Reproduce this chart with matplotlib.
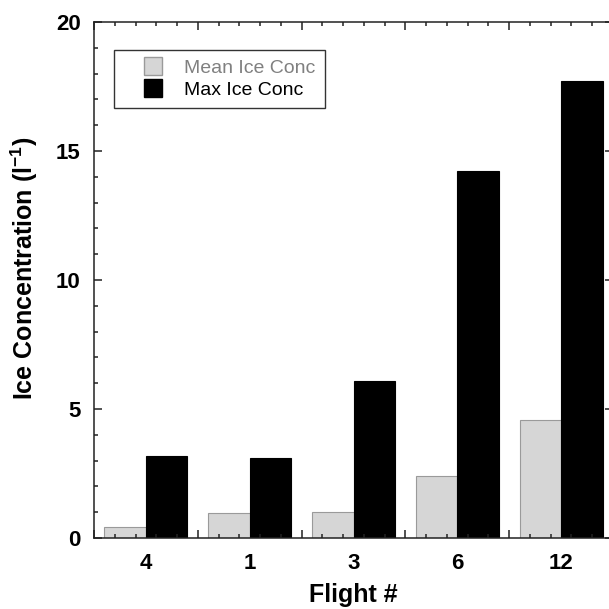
import matplotlib
matplotlib.use("Agg")
import matplotlib.pyplot as plt
import numpy as np
from matplotlib.lines import Line2D
from matplotlib.ticker import FixedLocator, MultipleLocator

plt.rcParams['font.family'] = ['Liberation Sans', 'DejaVu Sans']
plt.rcParams['mathtext.fontset'] = 'custom'
plt.rcParams['mathtext.bf'] = 'Liberation Sans:bold'
plt.rcParams['mathtext.rm'] = 'Liberation Sans'
plt.rcParams['mathtext.default'] = 'bf'

# values
flights = ['4', '1', '3', '6', '12']
mean_conc = [0.43, 0.97, 1.01, 2.40, 4.57]
max_conc = [3.18, 3.10, 6.08, 14.22, 17.71]

x = np.arange(len(flights))
w = 0.40

fig = plt.figure(figsize=(6.09, 6.09), dpi=100)
ax = fig.add_axes([94/609, 71/609, 519/609, 516/609])

ax.bar(x - w/2, mean_conc, w, color='#d6d6d6', edgecolor='#9a9a9a', linewidth=0.8, zorder=1)
ax.bar(x + w/2, max_conc, w, color='black', edgecolor='black', linewidth=0.8, zorder=1)

ax.set_xlim(-0.5, len(flights) - 0.5)
ax.set_ylim(0, 20)

# group boundaries as major ticks, finer marks every 0.2
bounds = np.arange(len(flights) + 1) - 0.5
ax.xaxis.set_major_locator(FixedLocator(bounds))
ax.xaxis.set_minor_locator(MultipleLocator(0.2, offset=0.1))
ax.set_xticklabels([])
ax.yaxis.set_major_locator(MultipleLocator(5))
ax.yaxis.set_minor_locator(MultipleLocator(1))

ax.tick_params(which='both', direction='in', top=True, right=True, color='#222222', width=1.1)
ax.tick_params(which='major', length=6)
ax.tick_params(which='minor', length=3)
ax.tick_params(axis='y', labelsize=16, pad=9.5)
for lab in ax.get_yticklabels():
    lab.set_fontweight('bold')
for s in ax.spines.values():
    s.set_linewidth(1.1)
    s.set_color('#222222')

# category names under the groups
sec = ax.secondary_xaxis('bottom')
sec.set_xticks(x)
sec.set_xticklabels(flights, fontsize=16, fontweight='bold')
sec.tick_params(length=0, pad=11)
sec.spines['bottom'].set_visible(False)
sec.set_xlabel('Flight #', fontsize=18, fontweight='bold', labelpad=6)

ax.set_ylabel('Ice Concentration (l$^{-1}$)', fontsize=18, fontweight='bold')
ax.yaxis.set_label_coords(-0.105, 0.522)

handles = [
    Line2D([], [], marker='s', linestyle='none', markersize=13.5,
           markerfacecolor='#d6d6d6', markeredgecolor='#9a9a9a'),
    Line2D([], [], marker='s', linestyle='none', markersize=13.5,
           markerfacecolor='black', markeredgecolor='black'),
]
leg = ax.legend(handles, ['Mean Ice Conc', 'Max Ice Conc'], loc='upper left',
                bbox_to_anchor=(0.038, 0.946), borderaxespad=0, fontsize=14,
                handlelength=3, handletextpad=0.1, labelspacing=0.2,
                borderpad=0.5, fancybox=False, framealpha=1, edgecolor='#333333')
leg.get_frame().set_linewidth(1.0)
leg.get_texts()[0].set_color('#808080')
leg.get_texts()[1].set_color('black')

fig.savefig('out.png', dpi=100)
